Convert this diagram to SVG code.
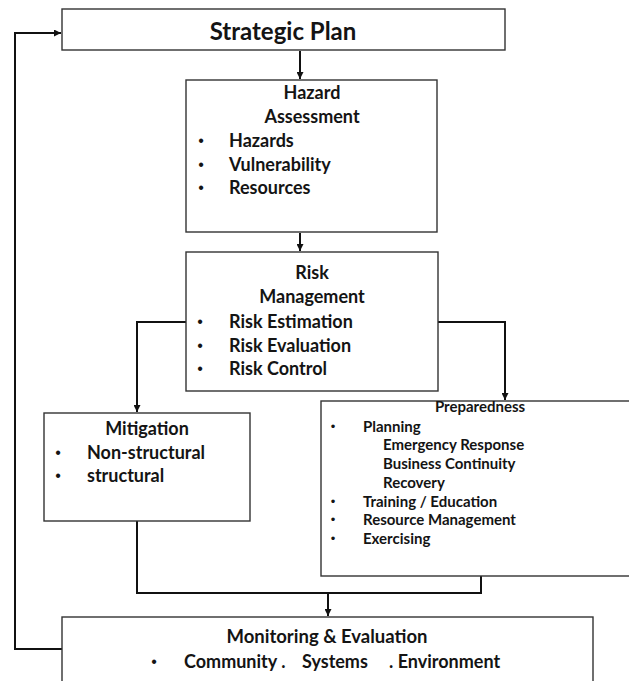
<svg xmlns="http://www.w3.org/2000/svg" width="629" height="681" viewBox="0 0 629 681">
  <style>
    .box { fill: #ffffff; stroke: #333333; stroke-width: 1.4; }
    .wire { fill: none; stroke: #111111; stroke-width: 2; }
    text { font-family: Lato, "Liberation Sans", sans-serif; font-weight: bold; fill: #141414; }
    .mid { text-anchor: middle; }
    .t18 { font-size: 18px; }
    .t15 { font-size: 15px; }
    .dot { font-family: "Liberation Sans", sans-serif; font-weight: normal; text-anchor: middle; }
  </style>
  <defs>
    <marker id="arrow" viewBox="0 0 10 10" refX="10" refY="5" markerWidth="7" markerHeight="7" markerUnits="userSpaceOnUse" orient="auto">
      <path d="M0,0 L10,5 L0,10 z" fill="#111111"/>
    </marker>
  </defs>

  <rect width="629" height="681" fill="#ffffff"/>

  <!-- connectors -->
  <g id="connectors">
    <line class="wire" x1="300" y1="51" x2="300" y2="79" marker-end="url(#arrow)"/>
    <line class="wire" x1="300" y1="233" x2="300" y2="251" marker-end="url(#arrow)"/>
    <polyline class="wire" points="186,322 137,322 137,412" marker-end="url(#arrow)"/>
    <polyline class="wire" points="438,322 505,322 505,400" marker-end="url(#arrow)"/>
    <polyline class="wire" points="137,521 137,593 481,593 481,576"/>
    <line class="wire" x1="328" y1="593" x2="328" y2="616" marker-end="url(#arrow)"/>
    <polyline class="wire" points="62,649 15,649 15,33 61,33" marker-end="url(#arrow)"/>
  </g>

  <g id="strategic-plan">
    <rect class="box" x="62" y="9" width="443" height="41"/>
    <text class="mid" x="283" y="40" font-size="24">Strategic Plan</text>
  </g>

  <g id="hazard-assessment">
    <rect class="box" x="186" y="80" width="251" height="152"/>
    <text class="mid t18" x="312" y="99">Hazard</text>
    <text class="mid t18" x="312" y="123">Assessment</text>
    <text class="dot" x="201" y="146" font-size="16">•</text>
    <text class="t18" x="229" y="147">Hazards</text>
    <text class="dot" x="201" y="170" font-size="16">•</text>
    <text class="t18" x="229" y="171">Vulnerability</text>
    <text class="dot" x="201" y="193" font-size="16">•</text>
    <text class="t18" x="229" y="194">Resources</text>
  </g>

  <g id="risk-management">
    <rect class="box" x="186" y="252" width="252" height="139"/>
    <text class="mid t18" x="312" y="279">Risk</text>
    <text class="mid t18" x="312" y="303">Management</text>
    <text class="dot" x="200" y="327" font-size="16">•</text>
    <text class="t18" x="229" y="328">Risk Estimation</text>
    <text class="dot" x="200" y="351" font-size="16">•</text>
    <text class="t18" x="229" y="352">Risk Evaluation</text>
    <text class="dot" x="200" y="374" font-size="16">•</text>
    <text class="t18" x="229" y="375">Risk Control</text>
  </g>

  <g id="mitigation">
    <rect class="box" x="44" y="413" width="206" height="108"/>
    <text class="mid t18" x="147" y="435">Mitigation</text>
    <text class="dot" x="58" y="458" font-size="16">•</text>
    <text class="t18" x="87" y="459">Non-structural</text>
    <text class="dot" x="58" y="481" font-size="16">•</text>
    <text class="t18" x="87" y="482">structural</text>
  </g>

  <g id="preparedness">
    <rect class="box" x="321" y="401" width="320" height="175"/>
    <text class="mid t15" x="480" y="412">Preparedness</text>
    <text class="dot" x="333" y="431" font-size="13">•</text>
    <text class="t15" x="363" y="432">Planning</text>
    <text class="t15" x="383" y="450">Emergency Response</text>
    <text class="t15" x="383" y="469">Business Continuity</text>
    <text class="t15" x="383" y="488">Recovery</text>
    <text class="dot" x="333" y="506" font-size="13">•</text>
    <text class="t15" x="363" y="507">Training / Education</text>
    <text class="dot" x="333" y="524" font-size="13">•</text>
    <text class="t15" x="363" y="525">Resource Management</text>
    <text class="dot" x="333" y="543" font-size="13">•</text>
    <text class="t15" x="363" y="544">Exercising</text>
  </g>

  <g id="monitoring-evaluation">
    <rect class="box" x="62" y="617" width="531" height="80"/>
    <text class="mid" x="327" y="643" font-size="18.5">Monitoring &amp; Evaluation</text>
    <text class="dot" x="154" y="667" font-size="16">•</text>
    <text x="184" y="668" font-size="18">Community .</text>
    <text x="302" y="668" font-size="18">Systems</text>
    <text x="389" y="668" font-size="18">. Environment</text>
  </g>
</svg>
